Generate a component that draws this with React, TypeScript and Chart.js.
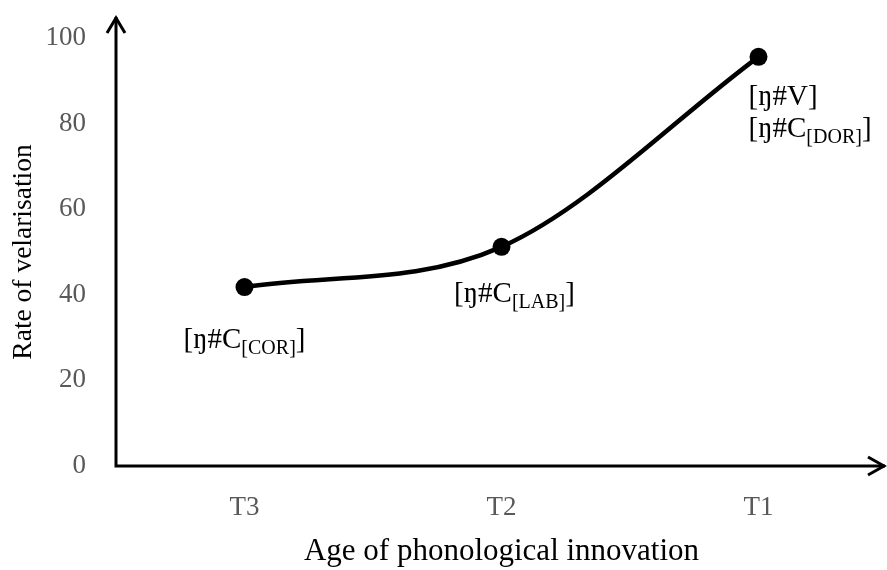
import React, { useEffect, useRef } from 'react';
import { Chart, registerables } from 'chart.js';

Chart.register(...registerables);

const categories = ['T3', 'T2', 'T1'];
const velarisation = [41.8, 51.2, 95.6];
const yMin = 0;
const yMax = 100;
const yStep = 20;
const yTitle = 'Rate of velarisation';
const xTitle = 'Age of phonological innovation';

// text annotations next to each point: [main, subscript, tail]
const labelLines = [
  [['[\u014B#C', '[COR]', ']']],
  [['[\u014B#C', '[LAB]', ']']],
  [['[\u014B#V]', '', ''], ['[\u014B#C', '[DOR]', ']']],
];

const FONT = "'Liberation Serif', 'Times New Roman', serif";

// placement styles for the annotations (pixel offsets from the point)
const labelPlacement = [
  { dx: 0, dy: 61, align: 'center', gap: 32 },
  { dx: 13, dy: 55, align: 'center', gap: 32 },
  { dx: -10, dy: 48, align: 'left', gap: 32 },
];

function drawRich(ctx: CanvasRenderingContext2D, parts: string[], x: number, y: number, align: string) {
  const mainFont = `29px ${FONT}`;
  const subFont = `20px ${FONT}`;
  ctx.font = mainFont;
  const w0 = ctx.measureText(parts[0]).width;
  const w2 = parts[2] ? ctx.measureText(parts[2]).width : 0;
  ctx.font = subFont;
  const w1 = parts[1] ? ctx.measureText(parts[1]).width : 0;
  const total = w0 + w1 + w2;
  let sx = align === 'center' ? x - total / 2 : x;
  ctx.textAlign = 'left';
  ctx.textBaseline = 'alphabetic';
  ctx.fillStyle = '#000';
  ctx.font = mainFont;
  ctx.fillText(parts[0], sx, y);
  sx += w0;
  if (parts[1]) {
    ctx.font = subFont;
    ctx.fillText(parts[1], sx, y + 6);
    sx += w1;
  }
  if (parts[2]) {
    ctx.font = mainFont;
    ctx.fillText(parts[2], sx, y);
  }
}

const decorations = {
  id: 'decorations',
  beforeDatasetsDraw(chart: any) {
    const { ctx, chartArea } = chart;
    const L = chartArea.left;
    const B = chartArea.bottom;
    const topTip = chartArea.top - 21;
    const rightTip = chartArea.right - 2;
    ctx.save();
    ctx.strokeStyle = '#000';
    ctx.lineWidth = 3;
    ctx.lineCap = 'butt';
    ctx.lineJoin = 'miter';
    ctx.beginPath();
    ctx.moveTo(L, topTip);
    ctx.lineTo(L, B);
    ctx.lineTo(rightTip, B);
    ctx.stroke();
    // y arrow head
    ctx.beginPath();
    ctx.moveTo(L - 9, topTip + 16);
    ctx.lineTo(L, topTip + 1);
    ctx.lineTo(L + 9, topTip + 16);
    ctx.stroke();
    // x arrow head
    ctx.beginPath();
    ctx.moveTo(rightTip - 17, B - 9);
    ctx.lineTo(rightTip - 1, B);
    ctx.lineTo(rightTip - 17, B + 9);
    ctx.stroke();
    ctx.restore();
  },
  afterDatasetsDraw(chart: any) {
    const { ctx } = chart;
    const meta = chart.getDatasetMeta(0);
    ctx.save();
    labelLines.forEach((lines, i) => {
      const pt = meta.data[i];
      const pl = labelPlacement[i];
      lines.forEach((parts, j) => {
        drawRich(ctx, parts, pt.x + pl.dx, pt.y + pl.dy + j * pl.gap, pl.align);
      });
    });
    ctx.restore();
  },
};

function zeroPadding(scale: any) {
  scale.paddingTop = 0;
  scale.paddingBottom = 0;
  scale.paddingLeft = 0;
  scale.paddingRight = 0;
}

export default function App() {
  const ref = useRef<HTMLCanvasElement | null>(null);
  useEffect(() => {
    if (!ref.current) return;
    const chart = new Chart(ref.current, {
      type: 'line',
      data: {
        labels: categories,
        datasets: [
          {
            data: velarisation,
            borderColor: '#000',
            backgroundColor: '#000',
            borderWidth: 4.5,
            pointRadius: 9,
            pointHoverRadius: 9,
            pointBackgroundColor: '#000',
            pointBorderWidth: 0,
            cubicInterpolationMode: 'monotone',
            fill: false,
            clip: false as any,
          },
        ],
      },
      options: {
        animation: false,
        responsive: true,
        maintainAspectRatio: false,
        layout: { autoPadding: false, padding: { top: 38, right: 0, bottom: 0, left: 0 } },
        plugins: {
          legend: { display: false },
          tooltip: { enabled: false },
        },
        scales: {
          x: {
            type: 'category',
            offset: true,
            grid: { display: false, drawTicks: false },
            border: { display: false },
            ticks: {
              color: '#595959',
              padding: 26,
              font: { family: FONT, size: 27 },
            },
            title: {
              display: true,
              text: xTitle,
              color: '#000',
              font: { family: FONT, size: 31 },
              padding: { top: 0, bottom: 0 },
            },
            afterFit: (scale: any) => {
              scale.height = 104;
              zeroPadding(scale);
            },
          },
          y: {
            min: yMin,
            max: yMax,
            grid: { display: false, drawTicks: false },
            border: { display: false },
            ticks: {
              stepSize: yStep,
              color: '#595959',
              padding: 30,
              font: { family: FONT, size: 27 },
            },
            title: {
              display: true,
              text: yTitle,
              color: '#000',
              font: { family: FONT, size: 27.5 },
              padding: { top: 7, bottom: 0 },
            },
            afterFit: (scale: any) => {
              scale.width = 116;
              zeroPadding(scale);
            },
          },
        },
      },
      plugins: [decorations],
    });
    return () => chart.destroy();
  }, []);
  return (
    <div style={{ position: 'absolute', left: 0, top: 0, width: 887, height: 570 }}>
      <canvas ref={ref} />
    </div>
  );
}
